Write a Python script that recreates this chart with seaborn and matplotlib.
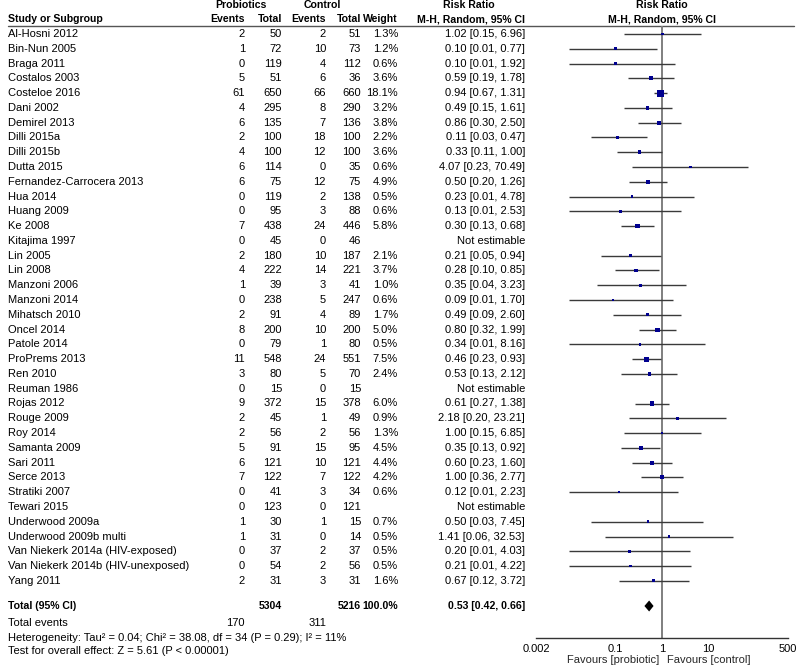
import numpy as np
import pandas as pd
import matplotlib
matplotlib.use("Agg")
import matplotlib.pyplot as plt
from matplotlib.ticker import NullLocator, FixedLocator, FixedFormatter
import seaborn as sns

# ---------------- data ----------------
studies = ["Al-Hosni 2012", "Bin-Nun 2005", "Braga 2011", "Costalos 2003", "Costeloe 2016",
           "Dani 2002", "Demirel 2013", "Dilli 2015a", "Dilli 2015b", "Dutta 2015",
           "Fernandez-Carrocera 2013", "Hua 2014", "Huang 2009", "Ke 2008", "Kitajima 1997",
           "Lin 2005", "Lin 2008", "Manzoni 2006", "Manzoni 2014", "Mihatsch 2010",
           "Oncel 2014", "Patole 2014", "ProPrems 2013", "Ren 2010", "Reuman 1986",
           "Rojas 2012", "Rouge 2009", "Roy 2014", "Samanta 2009", "Sari 2011",
           "Serce 2013", "Stratiki 2007", "Tewari 2015", "Underwood 2009a",
           "Underwood 2009b multi", "Van Niekerk 2014a (HIV-exposed)",
           "Van Niekerk 2014b (HIV-unexposed)", "Yang 2011"]
pro_events = [2, 1, 0, 5, 61, 4, 6, 2, 4, 6, 6, 0, 0, 7, 0, 2, 4, 1, 0, 2, 8, 0, 11, 3, 0,
              9, 2, 2, 5, 6, 7, 0, 0, 1, 1, 0, 0, 2]
pro_total = [50, 72, 119, 51, 650, 295, 135, 100, 100, 114, 75, 119, 95, 438, 45, 180, 222,
             39, 238, 91, 200, 79, 548, 80, 15, 372, 45, 56, 91, 121, 122, 41, 123, 30, 31,
             37, 54, 31]
ctl_events = [2, 10, 4, 6, 66, 8, 7, 18, 12, 0, 12, 2, 3, 24, 0, 10, 14, 3, 5, 4, 10, 1, 24,
              5, 0, 15, 1, 2, 15, 10, 7, 3, 0, 1, 0, 2, 2, 3]
ctl_total = [51, 73, 112, 36, 660, 290, 136, 100, 100, 35, 75, 138, 88, 446, 46, 187, 221,
             41, 247, 89, 200, 80, 551, 70, 15, 378, 49, 56, 95, 121, 122, 34, 121, 15, 14,
             37, 56, 31]
weight = [1.3, 1.2, 0.6, 3.6, 18.1, 3.2, 3.8, 2.2, 3.6, 0.6, 4.9, 0.5, 0.6, 5.8, None,
          2.1, 3.7, 1.0, 0.6, 1.7, 5.0, 0.5, 7.5, 2.4, None, 6.0, 0.9, 1.3, 4.5, 4.4,
          4.2, 0.6, None, 0.7, 0.5, 0.5, 0.5, 1.6]
rr = [1.02, 0.10, 0.10, 0.59, 0.94, 0.49, 0.86, 0.11, 0.33, 4.07, 0.50, 0.23, 0.13, 0.30, None,
      0.21, 0.28, 0.35, 0.09, 0.49, 0.80, 0.34, 0.46, 0.53, None, 0.61, 2.18, 1.00, 0.35,
      0.60, 1.00, 0.12, None, 0.50, 1.41, 0.20, 0.21, 0.67]
ci_low = [0.15, 0.01, 0.01, 0.19, 0.67, 0.15, 0.30, 0.03, 0.11, 0.23, 0.20, 0.01, 0.01, 0.13,
          None, 0.05, 0.10, 0.04, 0.01, 0.09, 0.32, 0.01, 0.23, 0.13, None, 0.27, 0.20, 0.15,
          0.13, 0.23, 0.36, 0.01, None, 0.03, 0.06, 0.01, 0.01, 0.12]
ci_high = [6.96, 0.77, 1.92, 1.78, 1.31, 1.61, 2.50, 0.47, 1.00, 70.49, 1.26, 4.78, 2.53,
           0.68, None, 0.94, 0.85, 3.23, 1.70, 2.60, 1.99, 8.16, 0.93, 2.12, None, 1.38,
           23.21, 6.85, 0.92, 1.60, 2.77, 2.23, None, 7.45, 32.53, 4.03, 4.22, 3.72]

total_pro_n, total_ctl_n = 5304, 5216
total_pro_ev, total_ctl_ev = 170, 311
total_rr, total_lo, total_hi = 0.53, 0.42, 0.66
heterogeneity = "Heterogeneity: Tau\u00b2 = 0.04; Chi\u00b2 = 38.08, df = 34 (P = 0.29); I\u00b2 = 11%"
overall = "Test for overall effect: Z = 5.61 (P < 0.00001)"
tick_vals = [0.002, 0.1, 1, 10, 500]
tick_labels = ["0.002", "0.1", "1", "10", "500"]

# ---------------- style ----------------
sns.set_style("white")
plt.rcParams["font.family"] = ["Liberation Sans", "DejaVu Sans"]
FS = 8
FSB = 7.6

W, H = 800, 667
fig = plt.figure(figsize=(W / 100, H / 100), dpi=100)
fig.patch.set_facecolor("white")

# pixel text axes
ax_t = fig.add_axes([0, 0, 1, 1])
ax_t.set_xlim(0, W)
ax_t.set_ylim(H, 0)
ax_t.axis("off")

row_y0, row_dy = 34.0, 14.78
n = len(studies)
ys = row_y0 + np.arange(n) * row_dy
y_total = 606
y_tev = 623
y_het = 638
y_test = 651

x_name = 8
x_pe, x_pt, x_ce, x_ct, x_w, x_rr = 245, 282, 326, 361, 398, 525

def txt(x, y, s, ha="left", bold=False, color="black"):
    ax_t.text(x, y, s, ha=ha, va="center", fontsize=FSB if bold else FS,
              fontweight="bold" if bold else "normal", color=color)

# headers
txt(241, 5, "Probiotics", ha="center", bold=True)
txt(322, 5, "Control", ha="center", bold=True)
txt(469, 5, "Risk Ratio", ha="center", bold=True)
txt(662, 5, "Risk Ratio", ha="center", bold=True)
txt(x_name, 19, "Study or Subgroup", bold=True)
txt(x_pe, 19, "Events", ha="right", bold=True)
txt(x_pt, 19, "Total", ha="right", bold=True)
txt(x_ce, 19, "Events", ha="right", bold=True)
txt(x_ct, 19, "Total", ha="right", bold=True)
txt(x_w, 19, "Weight", ha="right", bold=True)
txt(x_rr, 19, "M-H, Random, 95% CI", ha="right", bold=True)
txt(662, 19, "M-H, Random, 95% CI", ha="center", bold=True)
ax_t.plot([x_name, 794], [26, 26], color="#555555", lw=1)

for i in range(n):
    y = ys[i]
    txt(x_name, y, studies[i])
    txt(x_pe, y, str(pro_events[i]), ha="right")
    txt(x_pt, y, str(pro_total[i]), ha="right")
    txt(x_ce, y, str(ctl_events[i]), ha="right")
    txt(x_ct, y, str(ctl_total[i]), ha="right")
    if weight[i] is not None:
        txt(x_w, y, f"{weight[i]:.1f}%", ha="right")
        txt(x_rr, y, f"{rr[i]:.2f} [{ci_low[i]:.2f}, {ci_high[i]:.2f}]", ha="right")
    else:
        txt(x_rr, y, "Not estimable", ha="right")

txt(x_name, y_total, "Total (95% CI)", bold=True)
txt(x_pt, y_total, str(total_pro_n), ha="right", bold=True)
txt(x_ct, y_total, str(total_ctl_n), ha="right", bold=True)
txt(x_w, y_total, "100.0%", ha="right", bold=True)
txt(x_rr, y_total, f"{total_rr:.2f} [{total_lo:.2f}, {total_hi:.2f}]", ha="right", bold=True)
txt(x_name, y_tev, "Total events")
txt(x_pe, y_tev, str(total_pro_ev), ha="right")
txt(x_ce, y_tev, str(total_ctl_ev), ha="right")
txt(x_name, y_het, heterogeneity)
txt(x_name, y_test, overall)

# ---------------- forest axes ----------------
x_left, x_right = 536, 788
y_axis = 638
ax = fig.add_axes([x_left / W, (H - y_axis) / H, (x_right - x_left) / W, y_axis / H])
ax.set_facecolor("none")
ax.set_xscale("log")
ax.set_xlim(tick_vals[0], tick_vals[-1])
ax.set_ylim(y_axis, 0)

df = pd.DataFrame({"study": studies, "rr": rr, "lo": ci_low, "hi": ci_high,
                   "weight": weight, "y": ys}).dropna()

ax.vlines(1, 26, y_axis, color="#7f7f7f", lw=1.4, zorder=1)
ax.hlines(df["y"], df["lo"], df["hi"], color="#3a3a3a", lw=1.0, zorder=2, clip_on=False)
sns.scatterplot(data=df, x="rr", y="y", size="weight", sizes=(3, 26), marker="s",
                color="#00008f", edgecolor="none", linewidth=0, legend=False,
                ax=ax, zorder=3, clip_on=False)

# diamond
dh = 5.5
ax.fill([total_lo, total_rr, total_hi, total_rr],
        [y_total, y_total - dh, y_total, y_total + dh], color="black", zorder=4, lw=0)

for s in ["top", "left", "right"]:
    ax.spines[s].set_visible(False)
ax.spines["bottom"].set_color("#333333")
ax.spines["bottom"].set_linewidth(1.0)
ax.xaxis.set_major_locator(FixedLocator(tick_vals))
ax.xaxis.set_major_formatter(FixedFormatter(tick_labels))
ax.xaxis.set_minor_locator(NullLocator())
ax.tick_params(axis="x", direction="inout", length=8, width=1, colors="#333333",
               labelsize=FS, labelcolor="black", pad=0)
ax.set_yticks([])
ax.set_xlabel("")
ax.set_ylabel("")

ax_t.text(659, 660, "Favours [probiotic]", ha="right", va="center", fontsize=FS)
ax_t.text(667, 660, "Favours [control]", ha="left", va="center", fontsize=FS)

fig.savefig("out.png", dpi=100, facecolor="white")
